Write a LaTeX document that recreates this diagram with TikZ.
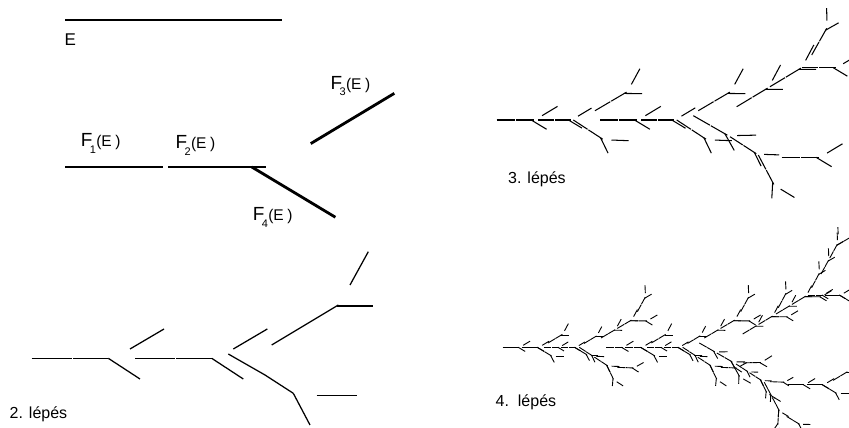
\documentclass[tikz,border=0pt]{standalone}
\usepackage{fontspec}
\setmainfont{Liberation Sans}
\tikzset{
  lab/.style={inner sep=0pt, anchor=base west},
  steplab/.style={inner sep=0pt, anchor=base west, font=\fontsize{16}{16}\selectfont},
  thickline/.style={line width=2.8pt},
  s2line/.style={line width=1.25pt},
  s3line/.style={line width=1.05pt},
  s4line/.style={line width=0.9pt},
}
% the four maps of the first step, E = [0,1]
\newcommand\ifsshape[1]{%
  \ifnum#1>0
    \begin{scope}[cm={0.45,0,0,0.45,(0,0)}]\ifsshape{\numexpr#1-1\relax}\end{scope}%
    \begin{scope}[cm={0.45,0,0,0.45,(0.477,0)}]\ifsshape{\numexpr#1-1\relax}\end{scope}%
    \begin{scope}[cm={0.3857,0.2318,-0.2318,0.3857,(1.134,0.108)}]\ifsshape{\numexpr#1-1\relax}\end{scope}%
    \begin{scope}[cm={0.3857,-0.2318,0.2318,0.3857,(0.862,0)}]\ifsshape{\numexpr#1-1\relax}\end{scope}%
  \else
    \draw (0,0) -- (1,0);%
  \fi}
% segment given in image coordinates (y down), with depth
\newcommand\ifsseg[5]{%
  \pgfmathsetmacro\sgA{(#3)-(#1)}%
  \pgfmathsetmacro\sgB{(#2)-(#4)}%
  \pgfmathsetmacro\sgC{(#4)-(#2)}%
  \pgfmathsetmacro\sgX{#1}%
  \pgfmathsetmacro\sgY{428-(#2)}%
  \begin{scope}[cm={\sgA,\sgB,\sgC,\sgA,(\sgX,\sgY)}]\ifsshape{#5}\end{scope}}
% fifteen of the sixteen pieces of step 2, shifted by (#1,#2), refined #3 times
\newcommand\basesegs[3]{%
  \ifsseg{31.7+#1}{358.3+#2}{71.7+#1}{358.3+#2}{#3}%
  \ifsseg{73.3+#1}{358.3+#2}{108.3+#1}{358.3+#2}{#3}%
  \ifsseg{108.3+#1}{358.3+#2}{140+#1}{379+#2}{#3}%
  \ifsseg{130+#1}{349+#2}{164+#1}{329+#2}{#3}%
  \ifsseg{135+#1}{358.3+#2}{175+#1}{358.3+#2}{#3}%
  \ifsseg{176+#1}{358.3+#2}{211.7+#1}{358.3+#2}{#3}%
  \ifsseg{211.7+#1}{358.3+#2}{243.3+#1}{379+#2}{#3}%
  \ifsseg{233.3+#1}{349+#2}{267.3+#1}{329+#2}{#3}%
  \ifsseg{271.7+#1}{345+#2}{305+#1}{325+#2}{#3}%
  \ifsseg{305+#1}{325+#2}{338.3+#1}{305+#2}{#3}%
  \ifsseg{336.7+#1}{306+#2}{373.3+#1}{306+#2}{#3}%
  \ifsseg{228.3+#1}{354+#2}{265+#1}{375+#2}{#3}%
  \ifsseg{265+#1}{375+#2}{293.3+#1}{393.3+#2}{#3}%
  \ifsseg{293.3+#1}{393.3+#2}{310+#1}{425+#2}{#3}%
  \ifsseg{316.7+#1}{395.7+#2}{356.7+#1}{395.7+#2}{#3}%
}
\newcommand\Flab[1]{{\fontsize{19}{19}\selectfont F}\kern-2.5pt\raisebox{-6.5pt}{\fontsize{11}{11}\selectfont #1}\kern0.3pt{\fontsize{15.5}{15.5}\selectfont(E\kern3.5pt)}}
\begin{document}
\begin{tikzpicture}[x=1pt,y=1pt]
\useasboundingbox (0,0) rectangle (849,428);
% step 1
\begin{scope}[thickline]
  \ifsseg{65}{20}{282}{20}{0}
  \ifsseg{65}{167}{281.7}{167}{1}
\end{scope}
\node[lab, font=\fontsize{17}{17}\selectfont] (lE) at (64.5,428-45.7) {E};
\node[lab] (l1) at (80.6,428-146.7) {\Flab{1}};
\node[lab] (l2) at (175.3,428-149) {\Flab{2}};
\node[lab] (l3) at (330.3,428-89.3) {\Flab{3}};
\node[lab] (l4) at (252.6,428-220.7) {\Flab{4}};
% step 2
\begin{scope}[s2line]
  \basesegs{0}{0}{0}
  \ifsseg{350}{285}{368.3}{251.7}{0}
\end{scope}
% step 3
\begin{scope}[s3line]
  \clip (460,200) rectangle (849,419);
  \basesegs{465}{-238.3}{1}
  \ifsseg{811.7}{55}{827.9}{26.2}{1}
\end{scope}
% step 4
\begin{scope}[s4line]
  \clip (460,0) rectangle (849,200);
  \basesegs{471}{-11}{2}
  \ifsseg{821}{274}{839.3}{240.7}{2}
\end{scope}
\node[steplab] (t2) at (9.5,428-419) {2. lépés};
\node[steplab] (t3) at (508,428-184) {3. lépés};
\node[steplab] (t4) at (495.5,428-406.7) {4.\ \ lépés};
\end{tikzpicture}
\end{document}
